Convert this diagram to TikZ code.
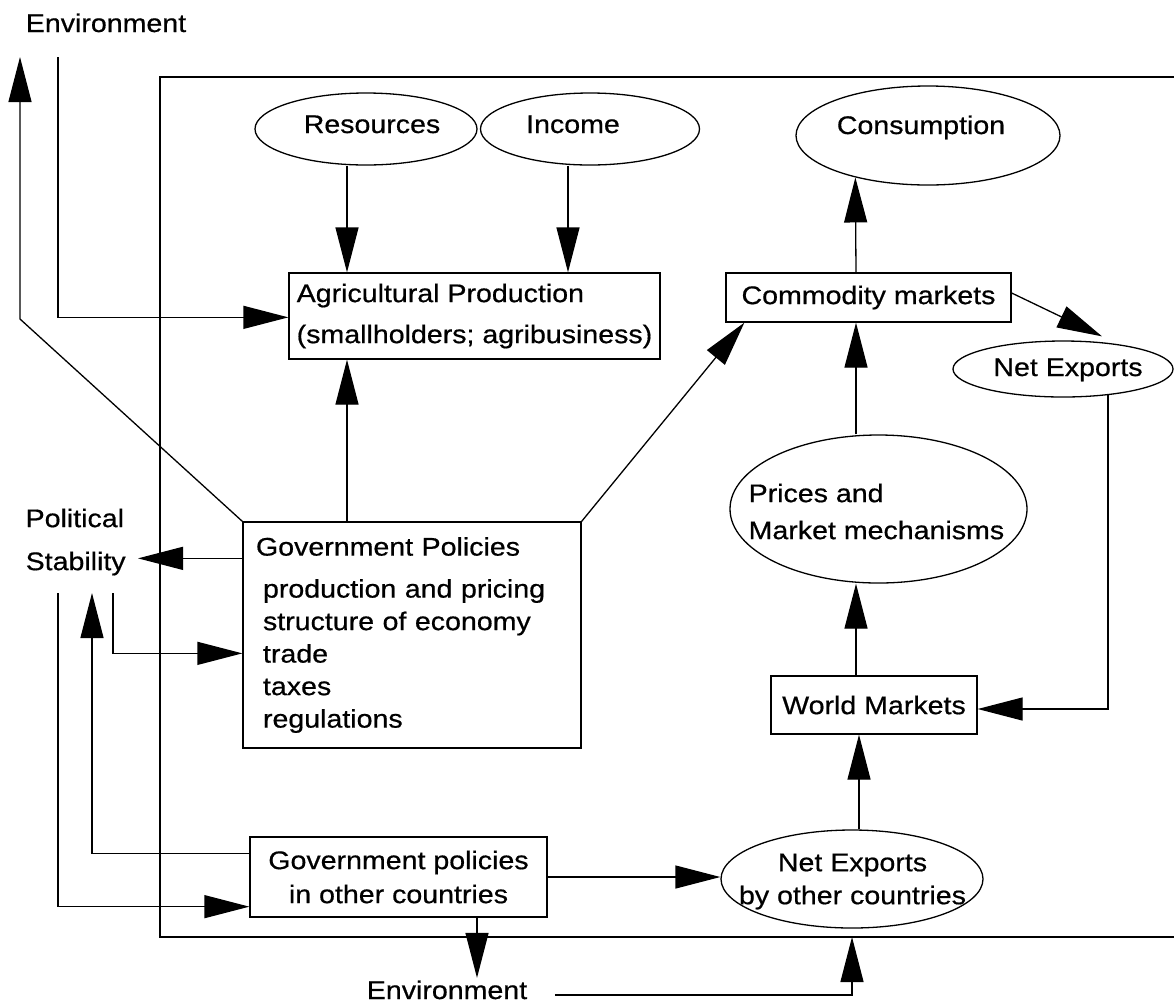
\documentclass[tikz,border=0pt]{standalone}
\usepackage{fontspec}
\setmainfont{Liberation Sans}[FakeStretch=1.12,FakeBold=0.6]
\usetikzlibrary{arrows.meta,shapes.geometric,calc}

\begin{document}
\begin{tikzpicture}[x=1pt,y=-1pt,
  line width=1.3pt,
  font=\fontsize{25.5}{32.5}\selectfont,
  arr/.style={-{Triangle[length=45pt,width=23pt]}},
  box/.style={draw, rectangle, inner sep=0pt},
  oval/.style={draw, ellipse, inner sep=0pt},
  txt/.style={inner sep=0pt},
]
\useasboundingbox (0,0) rectangle (1174,1005);

% outer frame (open on the right)
\coordinate (ftl) at (160,77);
\coordinate (ftr) at (1174,77);
\coordinate (fbl) at (160,937);
\coordinate (fbr) at (1174,937);
\draw (ftr) -- (ftl) -- (fbl) -- (fbr);

% helper verticals and free ends
\coordinate (c20) at (20,0);
\coordinate (c58) at (58,0);
\coordinate (c92) at (92,0);
\coordinate (c113) at (113,0);
\coordinate (c347) at (347,0);
\coordinate (c568) at (568,0);
\coordinate (c856) at (856,0);
\coordinate (c859) at (859,0);
\coordinate (envfoot) at (58,57);
\coordinate (envup) at (20,57);
\coordinate (bend) at (20,319);
\coordinate (psfoot) at (0,593);

% boxes
\node[box, minimum width=371pt, minimum height=86pt, align=left,
      font=\fontsize{25.5}{41}\selectfont] (ag) at (474.5,316)
  {Agricultural Production\\(smallholders; agribusiness)};
\node[box, minimum width=285pt, minimum height=49pt] (cm) at (868.5,297.5) {Commodity markets};
\node[box, minimum width=206pt, minimum height=58pt] (wm) at (874,705) {World Markets};
\node[box, minimum width=297pt, minimum height=80pt, align=center,
      font=\fontsize{25.5}{34}\selectfont] (go) at (398.5,877)
  {Government policies\\in other countries};
\node[box, minimum width=338pt, minimum height=226pt, text width=312pt,
      inner xsep=13pt, align=left] (gp) at (412,635)
  {Government Policies\\[9.5pt]
   \hspace*{7pt}production and pricing\\
   \hspace*{7pt}structure of economy\\
   \hspace*{7pt}trade\\
   \hspace*{7pt}taxes\\
   \hspace*{7pt}regulations};

% ovals
\node[oval, minimum width=222pt, minimum height=72pt] (res) at (366,129) {};
\node[oval, minimum width=219pt, minimum height=72pt] (inc) at (590,129) {};
\node[oval, minimum width=264pt, minimum height=99pt] (cons) at (928,135.5) {};
\node[oval, minimum width=220pt, minimum height=56pt] (ne) at (1063,369) {};
\node[oval, minimum width=297pt, minimum height=148pt] (pr) at (878.5,509) {};
\node[oval, minimum width=262pt, minimum height=98pt] (neo) at (852,879) {};

% labels
\node[txt, anchor=base] (restext) at (372,133) {Resources};
\node[txt, anchor=base] (inctext) at (573,133) {Income};
\node[txt, anchor=base] (constext) at (921,134) {Consumption};
\node[txt, anchor=base] (netext) at (1068,376) {Net Exports};
\node[txt, anchor=north west, align=left, font=\fontsize{25.5}{37}\selectfont]
  (prtext) at (748,483) {Prices and\\Market mechanisms};
\node[txt, anchor=north, align=center, font=\fontsize{25.5}{33}\selectfont]
  (neotext) at (852.5,853) {Net Exports\\by other countries};
\node[txt, anchor=base] (envt) at (106,32) {Environment};
\node[inner xsep=0pt, inner ysep=2pt, anchor=base] (envb) at (447,999) {Environment};
\node[txt, anchor=north west, align=left, font=\fontsize{25.5}{43}\selectfont]
  (ps) at (25,508) {Political\\Stability};

% connectors
\draw[arr] (res.south -| c347) -- (ag.north -| c347);
\draw[arr] (inc.south -| c568) -- (ag.north -| c568);
\draw[arr] (c347 |- gp.north) -- (c347 |- ag.south);
\draw[arr] (gp.north east) -- ($(cm.south west)+(19,0)$);
\draw[arr] (c856 |- cm.north) -- (cons.210);
\draw[arr] (c856 |- pr.north) -- (c856 |- cm.south);
\draw[arr] (c856 |- wm.north) -- (c856 |- pr.south);
\draw[arr] (c859 |- neo.north) -- (c859 |- wm.south);
\draw[arr] ($(cm.east)+(0,-4.5)$) -- ($(ne.north)+(39,-4)$);
\draw[arr] ($(ne.center)+(45,25.6)$) |- ($(wm.east)+(0,4)$);
\draw[arr] (go.east) -- (go.east -| neo.west);
\draw[arr] ($(go.south)+(78.5,0)$) coordinate (gs) -- (gs |- envb.north);
\draw[arr] ($(envb.east)+(27,5)$) -| (neo.south |- fbl);

% environment and political stability loops
\draw[arr] (envfoot) |- ($(ag.north west)+(0,45)$);
\draw[arr] (gp.north west) -- (bend) -- (envup);
\draw[arr] ($(gp.north west)+(0,37)$) coordinate (gpps) -- (138,0 |- gpps);
\draw[arr] (c113 |- psfoot) |- ($(gp.north west)+(0,132)$);
\draw[arr] ($(go.north west)+(0,17)$) -| (c92 |- psfoot);
\draw[arr] (c58 |- psfoot) |- ($(go.south west)+(0,-11)$);
\end{tikzpicture}
\end{document}
